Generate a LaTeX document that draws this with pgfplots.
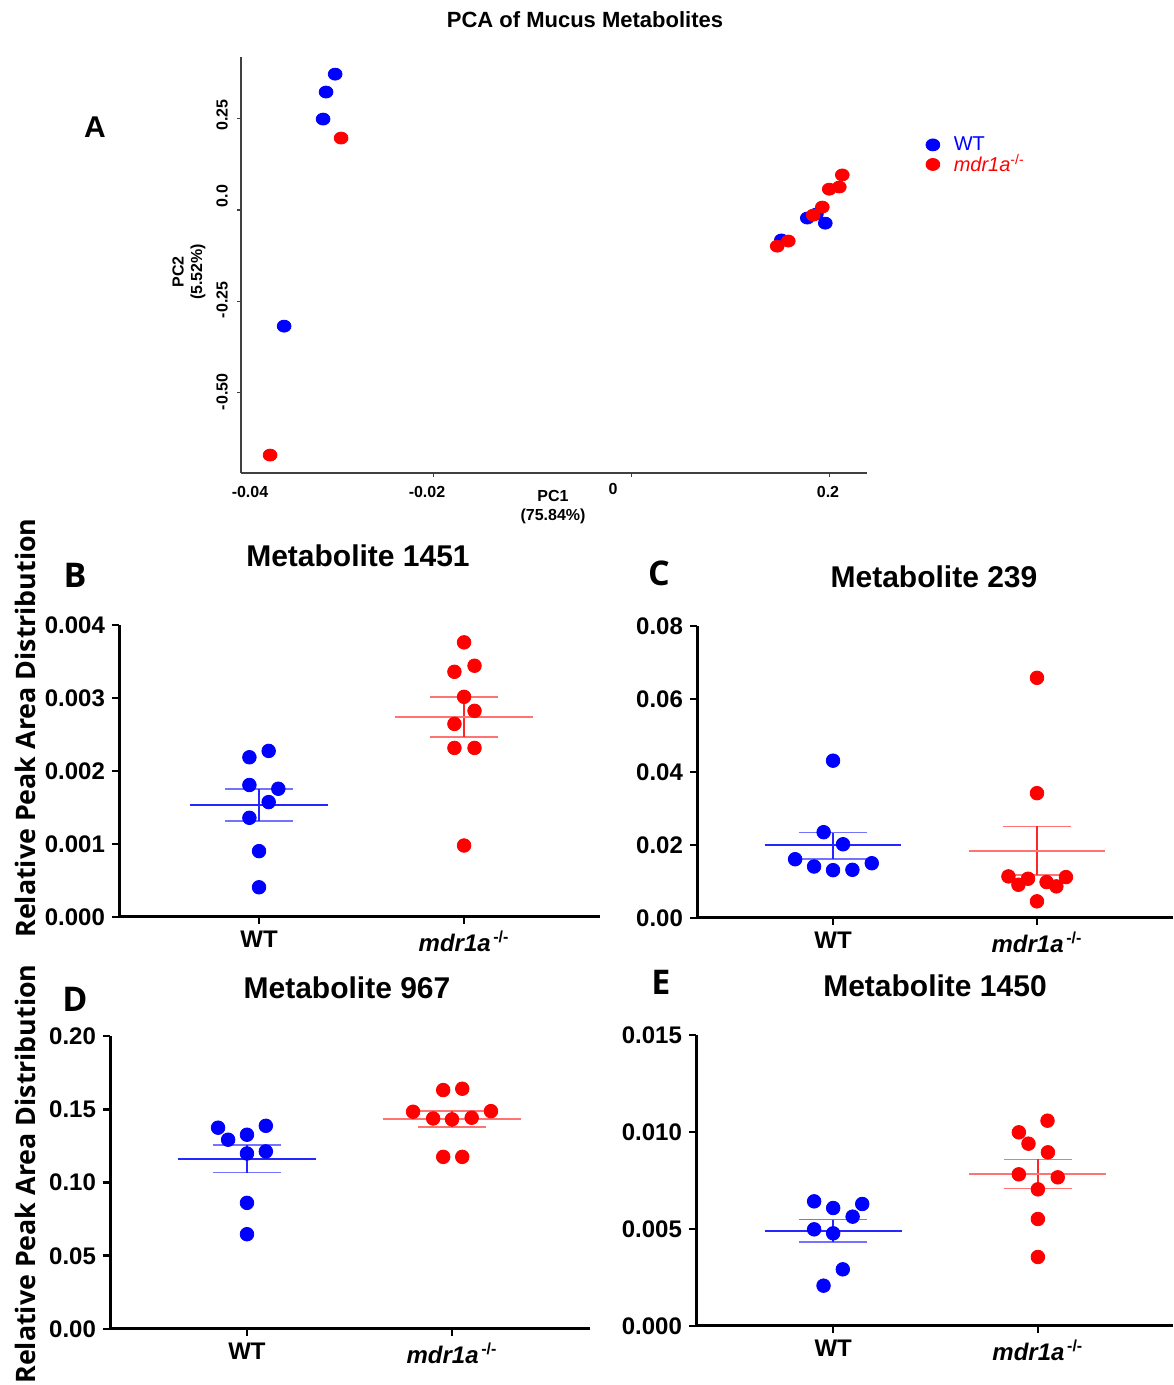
\documentclass[border=0pt]{standalone}
\usepackage{pgfplots}
\pgfplotsset{compat=1.18}
\usepackage{fontspec}
\setmainfont{Liberation Sans}
\newfontfamily\osans{Open Sans}
\definecolor{pblue}{RGB}{0,0,255}
\definecolor{pred}{RGB}{255,0,0}

\newcommand\msWT[4]{%
 \addplot[#1!55, line width=0.8pt, forget plot] coordinates {(-0.167,#3) (0.167,#3)};
 \addplot[#1!55, line width=0.8pt, forget plot] coordinates {(-0.167,#4) (0.167,#4)};
 \addplot[#1!85, line width=0.8pt, forget plot] coordinates {(0,#3) (0,#4)};
 \addplot[#1!85, line width=0.8pt, forget plot] coordinates {(-0.335,#2) (0.335,#2)};
}
\newcommand\msKO[4]{%
 \addplot[#1!55, line width=0.8pt, forget plot] coordinates {(0.833,#3) (1.167,#3)};
 \addplot[#1!55, line width=0.8pt, forget plot] coordinates {(0.833,#4) (1.167,#4)};
 \addplot[#1!85, line width=0.8pt, forget plot] coordinates {(1,#3) (1,#4)};
 \addplot[#1!55, line width=0.8pt, forget plot] coordinates {(0.665,#2) (1.335,#2)};
}

\pgfplotsset{
 dotplot/.style={
  anchor=south west, scale only axis, clip=false,
  axis x line*=bottom, axis y line*=left,
  axis line style={line width=1.5pt, black},
  tick style={line width=1.3pt, black},
  tick align=outside, major tick length=3.5pt,
  xtick={0,1},
  xticklabels={WT,{\textit{mdr1a}\textsuperscript{\,-/-}}},
  ticklabel style={font=\fontsize{12}{14}\selectfont\bfseries},
  /pgf/number format/assume math mode=true,
  scaled y ticks=false,
  ymin=0,
 },
 wt/.style={only marks, mark=*, mark size=3.4pt, color=pblue},
 ko/.style={only marks, mark=*, mark size=3.4pt, color=pred},
}

\begin{document}
\begin{tikzpicture}
\path[use as bounding box] (0,0) rectangle (586.5pt,692.5pt);

% ---------------- Panel A: PCA ----------------
\begin{axis}[
  at={(120.5pt,456pt)}, anchor=south west, scale only axis,
  width=313pt, height=208pt, clip=false,
  xmin=0.025, xmax=3.19, ymin=-0.72, ymax=0.419,
  axis x line*=bottom, axis y line*=left,
  axis line style={black!75, line width=0.9pt},
  tick style={black!75, line width=0.6pt},
  tick align=outside, major tick length=2pt,
  xtick={1,2,3}, ytick={-0.5,-0.25,0,0.25},
  xticklabels={}, yticklabels={},
  legend style={at={(1.084,0.829)}, anchor=north west, draw=none, fill=none,
    font=\fontsize{10}{11}\selectfont, row sep=-3.5pt, cells={anchor=west},
    /tikz/every odd column/.append style={column sep=5pt}},
]
\addplot[only marks, mark=*, color=pblue, mark size=3pt, mark options={xscale=1.15}] coordinates {
(0.501,0.372) (0.455,0.323) (0.440,0.249) (0.243,-0.318)
(2.888,-0.022) (2.979,-0.036) (2.757,-0.082) (2.934,-0.011)};
\addlegendentry{\textcolor{pblue}{WT}}
\addplot[only marks, mark=*, color=pred, mark size=3pt, mark options={xscale=1.15}] coordinates {
(0.531,0.197) (0.172,-0.671) (2.736,-0.099) (2.792,-0.085) (2.918,-0.014)
(2.964,0.008) (2.999,0.057) (3.050,0.063) (3.065,0.096)};
\addlegendentry{\textcolor{pred}{\textit{mdr1a}\textsuperscript{-/-}}}
\end{axis}

% ---------------- Panel B ----------------
\begin{axis}[dotplot, at={(59.5pt,234pt)}, width=240.5pt, height=146pt,
  xmin=-0.683, xmax=1.663, ymax=0.004, ytick={0,0.001,0.002,0.003,0.004},
  yticklabel style={/pgf/number format/.cd, fixed, fixed zerofill, precision=3}]
\msWT{pblue}{0.001533}{0.001313}{0.001757}
\msKO{pred}{0.002741}{0.002467}{0.003016}
\addplot[wt] coordinates {(-0.047,0.002188) (0.047,0.002275) (-0.047,0.001808) (0.094,0.001757)
 (0.047,0.001574) (-0.047,0.001359) (0,0.000902) (0,0.000407)};
\addplot[ko] coordinates {(1,0.003762) (1.051,0.003442) (0.953,0.003359) (1,0.003016)
 (1.051,0.002824) (0.953,0.002645) (0.953,0.002316) (1.051,0.002316) (1,0.000979)};
\end{axis}

% ---------------- Panel C ----------------
\begin{axis}[dotplot, at={(348.5pt,233.5pt)}, width=238pt, height=146pt,
  xmin=-0.667, xmax=1.667, ymax=0.08, ytick={0,0.02,0.04,0.06,0.08},
  yticklabel style={/pgf/number format/.cd, fixed, fixed zerofill, precision=2}]
\msWT{pblue}{0.01995}{0.0162}{0.0234}
\msKO{pred}{0.0184}{0.0118}{0.0251}
\addplot[wt] coordinates {(0,0.0431) (-0.046,0.0235) (0.049,0.0202) (-0.186,0.0161)
 (-0.093,0.0141) (0,0.0131) (0.095,0.0132) (0.19,0.0150)};
\addplot[ko] coordinates {(1,0.0658) (1,0.0342) (0.860,0.01139) (0.956,0.01075) (1.142,0.01121)
 (0.909,0.00911) (1.047,0.00984) (1.095,0.00866) (1,0.00456)};
\end{axis}

% ---------------- Panel D ----------------
\begin{axis}[dotplot, at={(55pt,28pt)}, width=240pt, height=146.5pt,
  xmin=-0.668, xmax=1.673, ymax=0.2, ytick={0,0.05,0.1,0.15,0.2},
  yticklabel style={/pgf/number format/.cd, fixed, fixed zerofill, precision=2}]
\msWT{pblue}{0.1162}{0.1068}{0.1257}
\msKO{pred}{0.1435}{0.1380}{0.1490}
\addplot[wt] coordinates {(-0.141,0.1374) (-0.092,0.1292) (0,0.1326) (0.092,0.1387)
 (0,0.1198) (0.092,0.1212) (0,0.0861) (0,0.0647)};
\addplot[ko] coordinates {(0.957,0.1631) (1.05,0.1640) (0.81,0.1483) (1.19,0.1487) (0.908,0.1437)
 (1.0,0.1431) (1.096,0.1442) (0.957,0.1175) (1.05,0.1175)};
\end{axis}

% ---------------- Panel E ----------------
\begin{axis}[dotplot, at={(348pt,29.5pt)}, width=238.5pt, height=145.5pt,
  xmin=-0.67, xmax=1.66, ymax=0.015, ytick={0,0.005,0.01,0.015},
  yticklabel style={/pgf/number format/.cd, fixed, fixed zerofill, precision=3}]
\msWT{pblue}{0.004897}{0.00433}{0.00548}
\msKO{pred}{0.007835}{0.007079}{0.008591}
\addplot[wt] coordinates {(-0.093,0.006426) (0,0.006082) (0.142,0.006289) (0.095,0.005636)
 (-0.093,0.004983) (0,0.004777) (0.047,0.002921) (-0.047,0.002079)};
\addplot[ko] coordinates {(1.047,0.010584) (0.907,0.009983) (0.954,0.009399) (1.049,0.008952)
 (0.907,0.007818) (1.097,0.007663) (1,0.007045) (1,0.005515) (1,0.003557)};
\end{axis}

% ---------------- Texts (pixel coordinates) ----------------
\begin{scope}[x=0.5pt,y=-0.5pt,shift={(0pt,692.5pt)}]
\node[font=\fontsize{11}{12}\selectfont\bfseries] at (585,20) {PCA of Mucus Metabolites};
\node[font=\fontsize{15}{17}\selectfont\bfseries] at (95,127) {A};
\begin{scope}[every node/.style={font=\fontsize{8}{9}\selectfont\bfseries}]
\node at (250,492) {-0.04};
\node at (427,492) {-0.02};
\node at (613,489) {0};
\node at (828,492) {0.2};
\node[rotate=90] at (222,115) {0.25};
\node[rotate=90] at (222,196) {0.0};
\node[rotate=90] at (222,300) {-0.25};
\node[rotate=90] at (222,392) {-0.50};
\node at (553,496) {PC1};
\node at (553,516) {(75.84\%)};
\node[rotate=90] at (178,272) {PC2};
\node[rotate=90] at (198,272) {(5.52\%)};
\end{scope}
\begin{scope}[every node/.style={font=\fontsize{15}{17}\selectfont\bfseries}]
\node at (358,556) {Metabolite 1451};
\node at (934,577) {Metabolite 239};
\node at (347,988) {Metabolite 967};
\node at (935,986) {Metabolite 1450};
\end{scope}
\begin{scope}[every node/.style={font=\fontsize{17}{19}\selectfont\osans\bfseries}]
\node at (75,575) {B};
\node at (659,573) {C};
\node at (75,999) {D};
\node at (661,982) {E};
\end{scope}
\begin{scope}[every node/.style={font=\fontsize{13.4}{15}\selectfont\osans\bfseries}]
\node[rotate=90] at (25,728) {Relative Peak Area Distribution};
\node[rotate=90] at (25,1174) {Relative Peak Area\ Distribution};
\end{scope}
\end{scope}
\end{tikzpicture}
\end{document}
